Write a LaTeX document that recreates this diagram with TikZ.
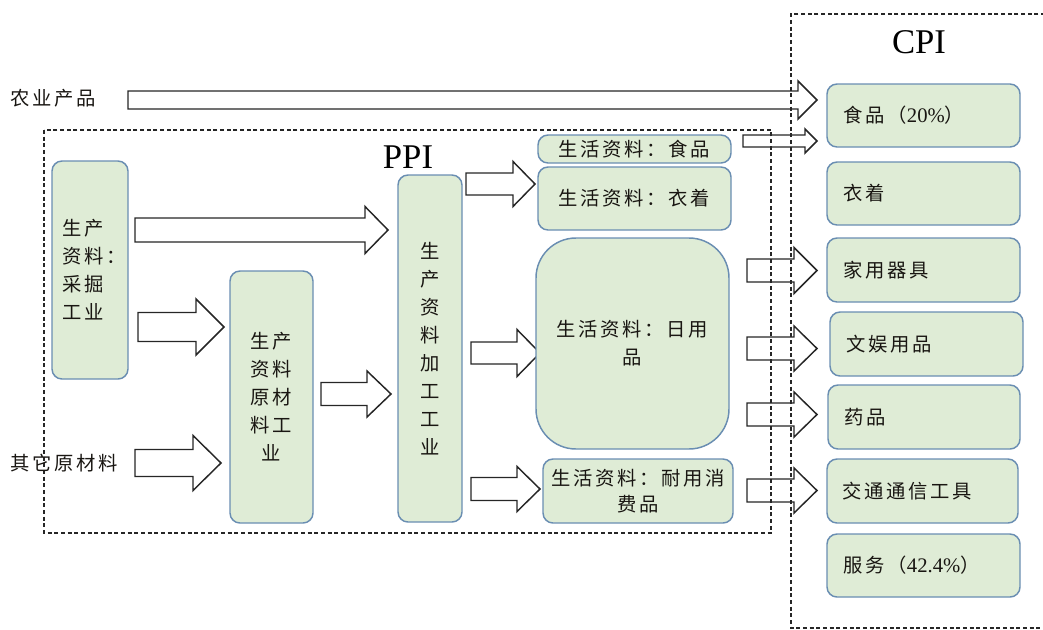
\documentclass[tikz,border=0pt]{standalone}
\usepackage{fontspec}
\setmainfont{Liberation Serif}
\newfontfamily\cjk[LetterSpace=14]{Noto Sans CJK SC}
\definecolor{boxfill}{RGB}{223,236,214}
\definecolor{boxline}{RGB}{106,142,178}
\definecolor{txt}{RGB}{25,22,18}
\newcommand\bnode[7][]{%
  \pgfmathsetmacro\mybw{(#5-#3)*0.75}\pgfmathsetmacro\mybh{(#6-#4)*0.75}%
  \node[box,#1,minimum width=\mybw pt,minimum height=\mybh pt] (#2) at ({(#3+#5)/2},{(#4+#6)/2}) {#7};}
\newcommand\barr[6]{% x start, x head base, x tip, y centre, shaft half, head half
  \draw[barrow] (#1,{#4-#5}) -- (#2,{#4-#5}) -- (#2,{#4-#6}) -- (#3,#4) -- (#2,{#4+#6}) -- (#2,{#4+#5}) -- (#1,{#4+#5}) -- cycle;}
\newcommand\num[1]{{\rmfamily\fontsize{15.5}{21}\selectfont #1}}
\begin{document}
\begin{tikzpicture}[x=0.75pt,y=-0.75pt,
  box/.style={draw=boxline, fill=boxfill, line width=1.1pt, rounded corners=7.5pt, inner sep=0pt,
    font=\cjk\fontsize{14.5}{21}\selectfont, text=txt, align=center},
  cpi/.style={align=left, text width=120pt},
  barrow/.style={draw=black!85, fill=white, line width=1.1pt, line join=miter},
  frame/.style={dash pattern=on 3pt off 2pt, line width=1pt, black!85},
  lbl/.style={font=\cjk\fontsize{14.5}{21}\selectfont, text=txt, inner sep=0pt},
  title/.style={font=\fontsize{26}{30}\selectfont, text=black, inner sep=0pt}]
\useasboundingbox (0,0) rectangle (1043,629);

% block arrows
\barr{128}{798}{817}{100}{9}{19}
\barr{135}{365}{388}{230}{12}{23.5}
\barr{138}{196}{224}{327}{14.5}{28}
\barr{135}{193}{221}{463}{13.5}{27.5}
\barr{321}{367}{391}{394}{11.5}{23}
\barr{466}{513}{535}{184}{11}{22.5}
\barr{471}{517}{540}{353}{11}{23.5}
\barr{471}{517}{540}{489}{11.5}{22.5}
\barr{743}{805}{817}{141}{6}{12}
\barr{747}{794}{817}{270.5}{11.5}{23}
\barr{747}{794}{817}{348.5}{11.5}{22.5}
\barr{747}{794}{817}{414.5}{11.5}{22.5}
\barr{747}{794}{817}{490.5}{11.5}{22.5}

% dashed frames
\draw[frame] (44,130) rectangle (771,533);
\draw[frame] (1045,14) -- (791,14) -- (791,628) -- (1045,628);

% titles and free labels
\node[title] (ppi) at (408,157) {PPI};
\node[title] (cpiT) at (919,42) {CPI};
\node[lbl, anchor=west] (nongye) at (10,98) {农业产品};
\node[lbl, anchor=west] (qita) at (10,463) {其它原材料};

% PPI boxes
\bnode{caijue}{52}{161}{128}{379}{}
\node[lbl, anchor=west, align=left] (caijueT) at (62,270) {生产\\资料：\\采掘\\工业};
\bnode{yuancai}{230}{271}{313}{523}{生产\\资料\\原材\\料工\\业}
\bnode{jiagong}{398}{175}{462}{522}{生\\产\\资\\料\\加\\工\\工\\业}
\bnode{shipin}{538}{135}{731}{163}{生活资料：食品}
\bnode{yizhuo}{538}{167}{731}{230}{生活资料：衣着}
\bnode[rounded corners=30pt]{riyong}{536}{238}{729}{449}{生活资料：日用\\品}
\bnode[font=\cjk\fontsize{14.5}{20}\selectfont]{naiyong}{543}{459}{733}{523}{生活资料：耐用消\\费品}

% CPI boxes
\bnode[cpi]{c1}{827}{84}{1020}{147}{食品（\num{20\%}）}
\bnode[cpi]{c2}{827}{162}{1020}{225}{衣着}
\bnode[cpi]{c3}{827}{238}{1020}{302}{家用器具}
\bnode[cpi]{c4}{830}{312}{1023}{376}{文娱用品}
\bnode[cpi]{c5}{828}{385}{1020}{449}{药品}
\bnode[cpi]{c6}{827}{459}{1018}{523}{交通通信工具}
\bnode[cpi]{c7}{827}{534}{1020}{597}{服务（\num{42.4\%}）}
\end{tikzpicture}
\end{document}
